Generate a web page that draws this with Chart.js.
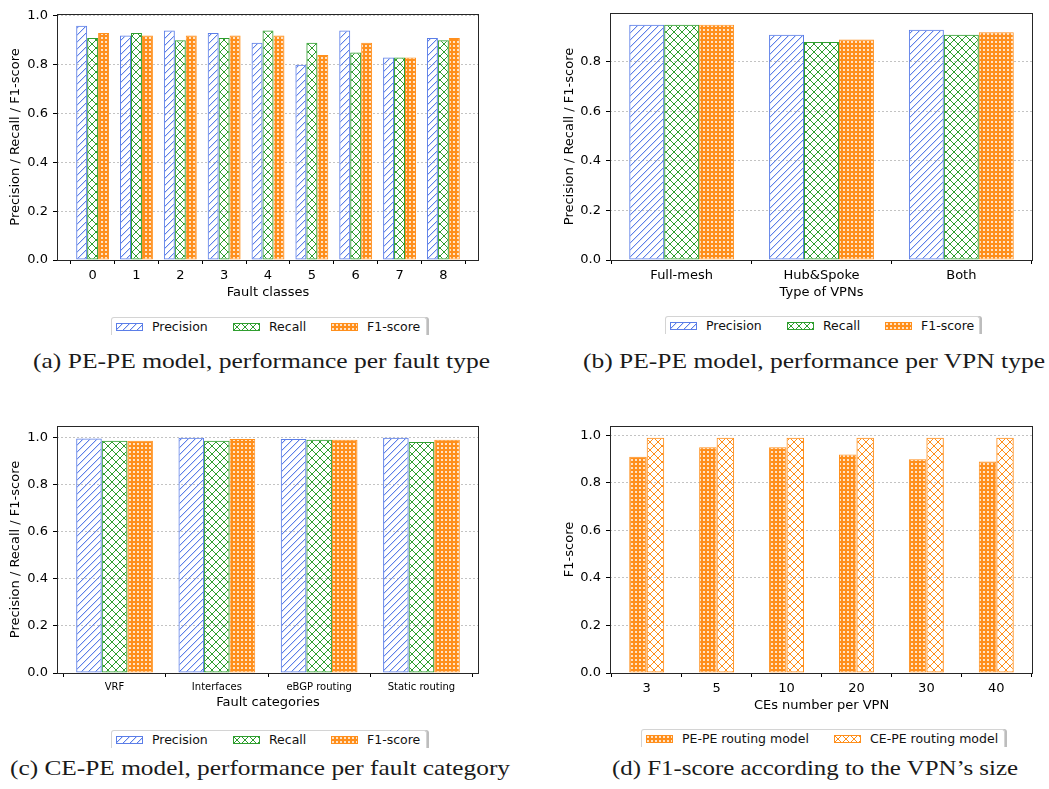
<!DOCTYPE html>
<html lang="en">
<head>
    <meta charset="utf-8" />
    <title>PE-PE / CE-PE model performance</title>
    <script src="https://cdn.jsdelivr.net/npm/chart.js@4.4.0/dist/chart.umd.min.js"></script>
    <style>
        body {
            margin: 0;
            width: 1049px;
            height: 789px;
            position: relative;
            overflow: hidden;
            background: #fff;
            font-family: "DejaVu Sans", sans-serif;
        }

        canvas.panel {
            position: absolute;
        }

        .legend {
            position: absolute;
            height: 17px;
            border: 1px solid #d4d4d4;
            border-bottom: none;
            border-radius: 3px 3px 0 0;
            box-shadow: 2px 0 0 #bdbdbd;
            background: #fff;
            font-size: 12.5px;
            color: #111;
        }

        .legend canvas {
            position: absolute;
            top: 5px;
        }

        .legend span {
            position: absolute;
            top: 1px;
            line-height: 16px;
            white-space: nowrap;
        }

        .caption {
            position: absolute;
            font-family: "Liberation Serif", serif;
            font-size: 21px;
            line-height: 24px;
            white-space: nowrap;
            transform-origin: 0 0;
            color: #1a1a1a;
        }
    </style>
</head>
<body>
    <canvas class="panel" id="chartA" width="482" height="305" style="left:0;top:0"></canvas>
    <canvas class="panel" id="chartB" width="510" height="305" style="left:530px;top:0"></canvas>
    <canvas class="panel" id="chartC" width="482" height="305" style="left:0;top:410px"></canvas>
    <canvas class="panel" id="chartD" width="510" height="305" style="left:530px;top:410px"></canvas>

    <div class="legend" id="legendA" style="left:111px;top:317px;width:314px"></div>
    <div class="legend" id="legendB" style="left:665px;top:316px;width:313px"></div>
    <div class="legend" id="legendC" style="left:111px;top:730px;width:314px"></div>
    <div class="legend" id="legendD" style="left:641px;top:729px;width:362px"></div>

    <div class="caption" data-w="457" style="left:33px;top:349px">(a) PE-PE model, performance per fault type</div>
    <div class="caption" data-w="462" style="left:583px;top:349px">(b) PE-PE model, performance per VPN type</div>
    <div class="caption" data-w="500" style="left:10px;top:756px">(c) CE-PE model, performance per fault category</div>
    <div class="caption" data-w="406" style="left:612px;top:756px">(d) F1-score according to the VPN’s size</div>

    <script>
        // (a) per fault class
        var faultClasses = ['0', '1', '2', '3', '4', '5', '6', '7', '8'];
        var precisionA = [0.96, 0.92, 0.94, 0.93, 0.89, 0.80, 0.94, 0.83, 0.91];
        var recallA = [0.91, 0.93, 0.90, 0.91, 0.94, 0.89, 0.85, 0.83, 0.90];
        var f1A = [0.93, 0.92, 0.92, 0.92, 0.92, 0.84, 0.89, 0.83, 0.91];

        // (b) per VPN type
        var vpnTypes = ['Full-mesh', 'Hub&Spoke', 'Both'];
        var precisionB = [0.95, 0.91, 0.93];
        var recallB = [0.95, 0.88, 0.91];
        var f1B = [0.95, 0.89, 0.92];

        // (c) per fault category
        var faultCategories = ['VRF', 'Interfaces', 'eBGP routing', 'Static routing'];
        var precisionC = [0.995, 0.998, 0.993, 0.998];
        var recallC = [0.985, 0.985, 0.99, 0.98];
        var f1C = [0.985, 0.993, 0.99, 0.99];

        // (d) F1 vs number of CEs
        var ceCounts = ['3', '5', '10', '20', '30', '40'];
        var pePeF1 = [0.91, 0.95, 0.95, 0.92, 0.90, 0.89];
        var cePeF1 = [0.99, 0.99, 0.99, 0.99, 0.99, 0.99];

        var yTicks = [0, 0.2, 0.4, 0.6, 0.8, 1.0];

        var BLUE = '#5b7ee8';
        var GREEN = '#2f9e2f';
        var ORANGE = '#ff8f1c';

        Chart.defaults.font.family = '"DejaVu Sans", sans-serif';
        Chart.defaults.color = '#000';

        // hatch tiles drawn pixel by pixel, like matplotlib's '///', 'xx' and the dotted one
        function tile(size, draw) {
            var c = document.createElement('canvas');
            c.width = size; c.height = size;
            var g = c.getContext('2d');
            draw(g, size);
            return g.createPattern(c, 'repeat');
        }
        function diag(color) {
            return tile(7, function (g, s) {
                g.fillStyle = color;
                for (var y = 0; y < s; y++) {
                    g.globalAlpha = 1;
                    g.fillRect(s - 1 - y, y, 1, 1);
                    g.globalAlpha = 0.25;
                    g.fillRect((s - y) % s, y, 1, 1);
                }
            });
        }
        function cross(color) {
            return tile(8, function (g, s) {
                g.fillStyle = color;
                for (var i = 0; i < s; i++) {
                    g.fillRect(i, i, 1, 1);
                    g.fillRect(s - 1 - i, i, 1, 1);
                }
            });
        }
        function dots(color) {
            return tile(4, function (g, s) {
                g.fillStyle = color; g.fillRect(0, 0, s, s);
                g.fillStyle = 'rgba(255,255,255,0.75)';
                g.fillRect(1, 1, 2, 2);
            });
        }

        var framePlugin = {
            id: 'frame',
            afterDatasetsDraw: function (chart) {
                var a = chart.chartArea, ctx = chart.ctx;
                ctx.save();
                ctx.strokeStyle = '#262626';
                ctx.lineWidth = 1;
                ctx.strokeRect(Math.round(a.left) + 0.5, Math.round(a.top) + 0.5,
                    Math.round(a.right - a.left) - 1, Math.round(a.bottom - a.top));
                ctx.restore();
            }
        };

        function makeChart(id, labels, series, o) {
            var ctx = document.getElementById(id);
            return new Chart(ctx, {
                type: 'bar',
                data: {
                    datasets: series.map(function (s) {
                        return {
                            label: s.label,
                            data: s.values.map(function (v, i) { return { x: i, y: v }; }),
                            backgroundColor: s.fill,
                            borderColor: s.color,
                            borderWidth: 1,
                            borderSkipped: false,
                            categoryPercentage: o.catPct,
                            barPercentage: 1
                        };
                    })
                },
                options: {
                    responsive: false,
                    animation: false,
                    layout: { padding: { top: o.padTop, right: o.padRight, left: 0, bottom: 0 } },
                    plugins: { legend: { display: false }, tooltip: { enabled: false } },
                    scales: {
                        x: {
                            type: 'linear',
                            min: o.xMin,
                            max: o.xMax,
                            offset: false,
                            afterBuildTicks: function (s) {
                                s.ticks = labels.map(function (_, i) { return { value: i }; });
                            },
                            afterFit: function (s) { s.height = o.xAxisH; },
                            ticks: {
                                callback: function (v) { return labels[v]; },
                                font: { size: o.xTickSize },
                                padding: 4,
                                maxRotation: 0,
                                autoSkip: false
                            },
                            grid: { drawOnChartArea: false, tickLength: 4, tickColor: '#000', tickWidth: 1 },
                            border: { display: false },
                            title: {
                                display: true, text: o.xTitle, font: { size: 13 },
                                padding: { top: 0, bottom: o.xTitlePad }
                            }
                        },
                        y: {
                            min: 0,
                            max: o.yMax,
                            afterBuildTicks: function (s) {
                                s.ticks = yTicks.filter(function (t) { return t <= o.yMax; })
                                    .map(function (t) { return { value: t }; });
                            },
                            afterFit: function (s) { s.width = o.axisW; },
                            ticks: {
                                callback: function (v) { return v.toFixed(1); },
                                font: { size: 13 },
                                padding: 5
                            },
                            grid: { color: '#b4b4b4', lineWidth: 0.8, tickColor: '#000', tickLength: 4, tickWidth: 1 },
                            border: { display: false, dash: [2, 2] },
                            title: {
                                display: true, text: o.yTitle, font: { size: 13 },
                                padding: { top: o.yTitlePad, bottom: 0 }
                            }
                        }
                    }
                },
                plugins: [framePlugin]
            });
        }

        function makeLegend(id, series, xs) {
            var box = document.getElementById(id);
            series.forEach(function (s, i) {
                var c = document.createElement('canvas');
                c.width = 27; c.height = 8;
                c.style.left = xs[i][0] + 'px';
                var g = c.getContext('2d');
                g.fillStyle = s.fill;
                g.fillRect(0, 0, 27, 8);
                g.strokeStyle = s.color;
                g.lineWidth = 1;
                g.strokeRect(0.5, 0.5, 26, 7);
                box.appendChild(c);
                var t = document.createElement('span');
                t.textContent = s.label;
                t.style.left = xs[i][1] + 'px';
                box.appendChild(t);
            });
        }

        var prf = function (p, r, f) {
            return [
                { label: 'Precision', values: p, color: BLUE, fill: diag(BLUE) },
                { label: 'Recall', values: r, color: GREEN, fill: cross(GREEN) },
                { label: 'F1-score', values: f, color: ORANGE, fill: dots(ORANGE) }
            ];
        };
        var seriesA = prf(precisionA, recallA, f1A);
        var seriesB = prf(precisionB, recallB, f1B);
        var seriesC = prf(precisionC, recallC, f1C);
        var seriesD = [
            { label: 'PE-PE routing model', values: pePeF1, color: ORANGE, fill: dots(ORANGE) },
            { label: 'CE-PE routing model', values: cePeF1, color: ORANGE, fill: cross(ORANGE) }
        ];

        var yLabel = 'Precision / Recall / F1-score';

        makeChart('chartA', faultClasses, seriesA, {
            xMin: -0.8125, xMax: 8.8125, yMax: 1.008, catPct: 0.75,
            axisW: 57, padTop: 14, padRight: 3, xAxisH: 45,
            xTickSize: 13, xTitle: 'Fault classes', yTitle: yLabel, xTitlePad: 5, yTitlePad: 8
        });
        makeChart('chartB', vpnTypes, seriesB, {
            xMin: -0.5125, xMax: 2.5125, yMax: 0.9975, catPct: 0.75,
            axisW: 80, padTop: 13, padRight: 7, xAxisH: 45,
            xTickSize: 13, xTitle: 'Type of VPNs', yTitle: yLabel, xTitlePad: 5, yTitlePad: 32
        });
        makeChart('chartC', faultCategories, seriesC, {
            xMin: -0.5625, xMax: 3.5625, yMax: 1.048, catPct: 0.75,
            axisW: 57, padTop: 16, padRight: 3, xAxisH: 42,
            xTickSize: 10, xTitle: 'Fault categories', yTitle: yLabel, xTitlePad: 5, yTitlePad: 8
        });
        makeChart('chartD', ceCounts, seriesD, {
            xMin: -0.525, xMax: 5.525, yMax: 1.0395, catPct: 0.5,
            axisW: 80, padTop: 16, padRight: 7, xAxisH: 42,
            xTickSize: 13, xTitle: 'CEs number per VPN', yTitle: 'F1-score', xTitlePad: 2, yTitlePad: 32
        });

        var prfPos = [[4, 40], [121, 157], [219, 255]];
        makeLegend('legendA', seriesA, prfPos);
        makeLegend('legendB', seriesB, prfPos);
        makeLegend('legendC', seriesC, prfPos);
        makeLegend('legendD', seriesD, [[4, 40], [192, 228]]);

        // stretch the serif captions to the width they have in the figure
        document.querySelectorAll('.caption').forEach(function (el) {
            var w = el.getBoundingClientRect().width;
            el.style.transform = 'scaleX(' + (+el.dataset.w / w) + ')';
        });
    </script>
</body>
</html>
